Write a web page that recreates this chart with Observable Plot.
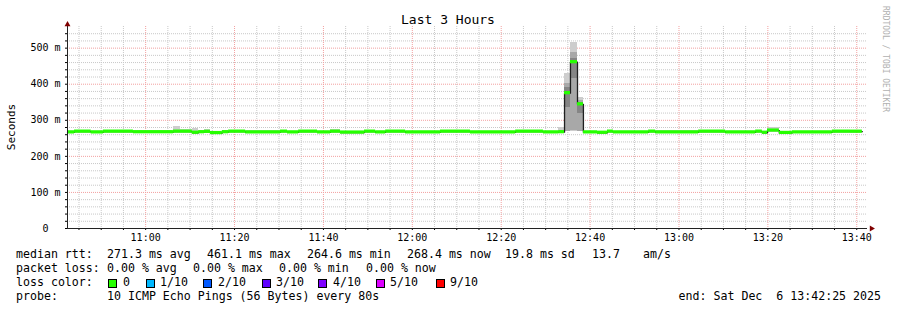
<!DOCTYPE html>
<html><head><meta charset="utf-8">
<script src="https://cdn.jsdelivr.net/npm/d3@7"></script>
<script src="https://cdn.jsdelivr.net/npm/@observablehq/plot@0.6"></script>
<style>
body{margin:0;background:#fff}
svg text{white-space:pre}
</style>
</head><body><div id="chart"></div>
<script>
// ---------- data ----------
const day = "2025-12-06";
const startTime = "10:42:25";
const endTime = "13:42:25";
const title = "Last 3 Hours";
const yLabel = "Seconds";
// segment boundaries (start of each step, last entry = end of data)
const segStart = ["10:42:25","10:44:00","10:47:45","10:50:30","10:57:15","11:06:15","11:07:50","11:10:30",
  "11:11:55","11:13:15","11:14:35","11:17:15","11:18:40","11:22:30","11:30:20","11:31:55","11:34:25",
  "11:38:40","11:41:35","11:43:50","11:49:15","11:51:45","11:54:00","11:58:30","12:06:20","12:13:05",
  "12:23:15","12:29:30","12:32:55","12:34:15","12:35:35","12:37:10","12:38:30","12:41:40","12:43:55",
  "12:45:15","12:53:10","12:54:45","13:04:25","13:10:30","13:17:15","13:18:45","13:19:55","13:22:35",
  "13:25:30","13:34:30","13:38:35","13:41:15"];
// median rtt (ms)
const median = [266.5,268.5,266.5,268.5,267,268.5,268.5,265.5,267,268,264.6,267,268.5,266.5,268.5,266.5,
  268.5,266.5,268.5,266,268.5,266.5,268.5,266.5,268.5,266.5,268.5,266.5,267,375.2,461.1,344.3,266.5,265.5,
  268.5,266.5,268.5,266.5,268.5,266.5,268.5,265.5,271.5,265,266.5,268.5,268.4];
// smoke (outer band, ms)
const smokeHi = [270,271,270,271,270,283,274,276,270,275,268,272,271,271,271,270,271,270,274,269,271,270,
  271,270,273,270,271,270,279,431,517,364,270,269,271,270,271,271,271,270,271,269,281,268,270,271,271];
const smokeLo = [264,266,264,266,265,266,266,263,265,266,262,265,266,264,266,264,266,264,266,264,266,264,
  266,264,266,264,266,264,265,268,268,268,264,263,266,264,266,264,266,264,266,263,269,263,264,266,266];
// inner smoke layers during the spike
const spikeTimes = ["12:34:15","12:35:35","12:37:10","12:38:30"];
const midLo = [270,271,270], midHi = [402,489,356];
const innerLo = [336,415,318], innerHi = [390,470,349];
const yTickValues = [0,100,200,300,400,500];
const xTickLabels = ["11:00","11:20","11:40","12:00","12:20","12:40","13:00","13:20","13:40"];
const lossLabels = ["0","1/10","2/10","3/10","4/10","5/10","9/10"];
const lossColors = ["#26ff00","#00b8ff","#0059ff","#5e00ff","#7e00ff","#dd00ff","#ff0000"];
const rttChunks = ["median rtt:","271.3 ms avg","461.1 ms max","264.6 ms min","268.4 ms now","19.8 ms sd","13.7","am/s"];
const lossChunks = ["packet loss:","0.00 % avg","0.00 % max","0.00 % min","0.00 % now"];
const lossColorLabel = "loss color:";
const probeChunks = ["probe:","10 ICMP Echo Pings (56 Bytes) every 80s"];
const endText = "end: Sat Dec  6 13:42:25 2025";
const watermark = "RRDTOOL / TOBI OETIKER";

// ---------- build ----------
const T = s => new Date(`${day}T${s}Z`);
const x0 = T(startTime), xEnd = T(endTime);
const segs = median.map((m, i) => ({t0: T(segStart[i]), t1: T(segStart[i+1]), med: m, lo: smokeLo[i], hi: smokeHi[i]}));
const spike = midLo.map((v, i) => ({t0: T(spikeTimes[i]), t1: T(spikeTimes[i+1]), mLo: v, mHi: midHi[i], iLo: innerLo[i], iHi: innerHi[i]}));
const pts = segStart.map((s, i) => ({t: T(s), v: median[Math.min(i, median.length - 1)]}));

const fmt = d3.utcFormat("%H:%M");
const minor5 = d3.utcMinute.every(5).range(x0, xEnd);
const minorX = minor5.filter(d => !xTickLabels.includes(fmt(d)));
const majorX = minor5.filter(d => xTickLabels.includes(fmt(d)));
const allY = d3.range(0, 541, 20);
const minorY = allY.filter(v => v > 0 && !yTickValues.includes(v));
const majorY = yTickValues.filter(v => v > 0);

const gridMinor = {stroke: "#c8c8c8", strokeDasharray: "1,1"};
const gridMajor = {stroke: "#f2a0a0", strokeDasharray: "1,1"};

const svg = Plot.plot({
  width: 897, height: 310,
  marginLeft: 67, marginRight: 30, marginTop: 26, marginBottom: 82,
  style: {fontFamily: "DejaVu Sans Mono", fontSize: "10px", background: "#fff", overflow: "visible", color: "#000"},
  x: {type: "utc", domain: [x0, xEnd], label: null},
  y: {domain: [0, 560], label: null},
  marks: [
    Plot.ruleY(minorY, gridMinor),
    Plot.ruleX(minorX, gridMinor),
    Plot.ruleY(majorY, gridMajor),
    Plot.ruleX(majorX, gridMajor),
    Plot.rect(segs, {x1: "t0", x2: "t1", y1: "lo", y2: "hi", fill: "#cdcdcd", shapeRendering: "crispEdges"}),
    Plot.rect(spike, {x1: "t0", x2: "t1", y1: "mLo", y2: "mHi", fill: "#a8a8a8", shapeRendering: "crispEdges"}),
    Plot.rect(spike, {x1: "t0", x2: "t1", y1: "iLo", y2: "iHi", fill: "#858585", shapeRendering: "crispEdges"}),
    Plot.line(pts, {x: "t", y: "v", curve: "step-after", stroke: "#202020", strokeWidth: 1.3}),
    Plot.rect(segs, {x1: "t0", x2: "t1", y1: d => d.med - 4.5, y2: d => d.med + 4.5, fill: lossColors[0]}),
    Plot.axisY(allY, {tickSize: 2, tickPadding: 5, label: null,
      tickFormat: d => yTickValues.includes(d) ? (d === 0 ? "0  " : `${d} m`) : ""}),
    Plot.axisX(minor5, {tickSize: 2, tickPadding: 3, label: null,
      tickFormat: d => xTickLabels.includes(fmt(d)) ? fmt(d) : ""}),
    Plot.ruleX([x0], {stroke: "#222", y1: 0, y2: 560}),
    Plot.ruleY([0], {stroke: "#222"}),
    Plot.dot([x0], {x: d => d, frameAnchor: "top", symbol: "triangle", r: 2.2, fill: "#800000", stroke: null, dy: -2}),
    Plot.dot([0], {y: d => d, frameAnchor: "right", symbol: "triangle", r: 2.2, fill: "#800000", stroke: null, rotate: 90, dx: 4})
  ]
});
document.getElementById("chart").appendChild(svg);

// ---------- text decorations ----------
const s = d3.select(svg);
const mono = "DejaVu Sans Mono";
s.append("text").attr("x", 448).attr("y", 24).attr("text-anchor", "middle")
  .attr("font-family", mono).attr("font-size", "13px").attr("fill", "#000").text(title);
s.append("text").attr("transform", "translate(15,127) rotate(-90)").attr("text-anchor", "middle")
  .attr("font-family", mono).attr("font-size", "11px").attr("fill", "#000").text(yLabel);
s.append("text").attr("transform", "translate(883,59) rotate(90)").attr("text-anchor", "middle")
  .attr("font-family", mono).attr("font-size", "8px").attr("fill", "#b0b0b0").text(watermark);

const legendFont = "11.6px";
const put = (t, x, y, anchor = "start") =>
  s.append("text").attr("x", x).attr("y", y).attr("text-anchor", anchor).attr("font-family", mono)
    .attr("font-size", legendFont).attr("fill", "#000").text(t);

const rttX = [16, 107, 207, 307, 407, 505, 592, 643];
rttChunks.forEach((t, i) => put(t, rttX[i], 258));
const lossX = [16, 107, 193, 279, 366];
lossChunks.forEach((t, i) => put(t, lossX[i], 272));
put(lossColorLabel, 16, 286);
const boxX = [108, 146, 203, 262, 318, 376, 436];
const labX = [123, 160, 218, 276, 333, 390, 450];
lossLabels.forEach((l, i) => {
  s.append("rect").attr("x", boxX[i] + 0.5).attr("y", 279.5).attr("width", 8).attr("height", 8)
    .attr("fill", lossColors[i]).attr("stroke", "#000").attr("stroke-width", 1);
  put(l, labX[i], 286);
});
const probeX = [16, 107];
probeChunks.forEach((t, i) => put(t, probeX[i], 300));
put(endText, 881, 300, "end");
</script>
</body></html>
